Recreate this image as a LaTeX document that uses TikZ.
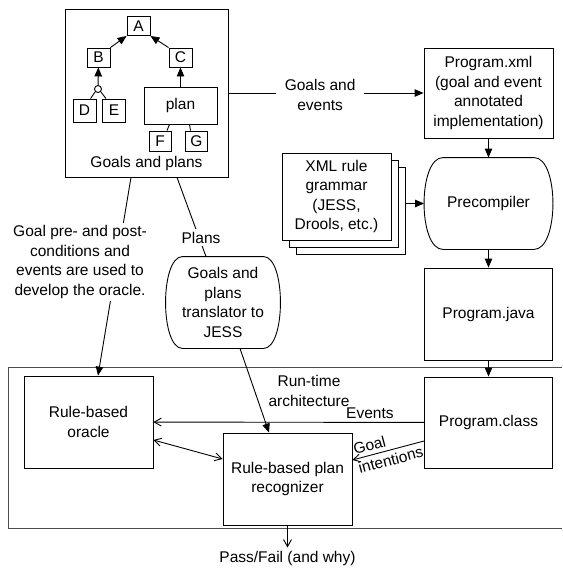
\documentclass[tikz,border=0pt]{standalone}
\usepackage{fontspec}
\setmainfont{Liberation Sans}
\usetikzlibrary{positioning,arrows.meta,shadows}
% box with bulging left and right sides
\newcommand{\sidebulge}[2]{%
  \draw ([xshift=#2]#1.north west) -- ([xshift=-#2]#1.north east)
    .. controls ([xshift=#2/3]#1.north east) and ([xshift=#2/3]#1.south east)
    .. ([xshift=-#2]#1.south east) -- ([xshift=#2]#1.south west)
    .. controls ([xshift=-#2/3]#1.south west) and ([xshift=-#2/3]#1.north west)
    .. cycle;}

\begin{document}
\begin{tikzpicture}[x=1pt, y=-1pt, line width=0.9pt,
  font=\fontsize{15.5}{19.5}\selectfont,
  box/.style={draw, fill=white, inner sep=0pt, align=center},
  goal/.style={box, minimum width=23, minimum height=19},
  plain/.style={inner sep=0pt, align=center},
  lbl/.style={fill=white, inner sep=3pt, align=center},
  arr/.style={-{Triangle[length=9pt,width=7.5pt]}},
  opn/.style={-{Straight Barb[length=7pt,width=8pt]}},
  opn2/.style={{Straight Barb[length=7pt,width=8pt]}-{Straight Barb[length=7pt,width=8pt]}}]
\useasboundingbox (0,0) rectangle (562,570);
\draw[black!70] (562,367) -- (8,367) -- (8,528) -- (562,528);
% goals and plans
\node[box, minimum width=163, minimum height=168] (goals) at (146.5,93) {};
\node (goalslbl) at (146.5,163) {Goals and plans};
\node[goal] (A) at (138.5,26) {A};
\node[goal] (B) at (98.5,57.5) {B};
\node[goal] (C) at (180.5,57.5) {C};
\node[goal, minimum height=23] (D) at (84.5,110.5) {D};
\node[goal, minimum height=23] (E) at (114,110.5) {E};
\node[box, minimum width=73, minimum height=37] (plan) at (180.5,105.5) {plan};
\node[goal, minimum width=22, minimum height=20] (F) at (160,141) {F};
\node[goal, minimum width=22, minimum height=20] (G) at (196.5,141) {G};
\node[draw, circle, inner sep=0pt, minimum size=7] (orn) at (98,89) {};
\draw[arr] (B.north east) -- (A.south west);
\draw[arr] (C.north west) -- (A.south east);
\draw[arr] (orn) -- (B);
\draw ([xshift=6]D.north) -- (orn.south west);
\draw ([xshift=-8]E.north) -- (orn.south east);
\draw[arr] (plan) -- (C);
\draw ([xshift=7]F.north) -- ([xshift=-11]plan.south);
\draw ([xshift=-6]G.north) -- ([xshift=9]plan.south);
% build chain
\node[box, minimum width=129, minimum height=90] (progxml) at (488.5,93)
  {Program.xml\\(goal and event\\annotated\\implementation)};
\node[plain, minimum width=128, minimum height=91] (precomp) at (488.5,203.5) {Precompiler};
\sidebulge{precomp}{19}
\node[box, minimum width=128, minimum height=92] (progjava) at (488.5,314) {Program.java};
\node[box, minimum width=128, minimum height=91] (progclass) at (488.5,422.5) {Program.class};
\node[box, minimum width=109, minimum height=87,
  double copy shadow={shadow xshift=7pt, shadow yshift=-7pt}] (grammar) at (336.5,196.5)
  {XML rule\\grammar\\(JESS,\\Drools, etc.)};
\draw[arr] (progxml) -- (precomp);
\draw[arr] (precomp) -- (progjava);
\draw[arr] (progjava) -- (progclass);
\draw[arr] ([xshift=14pt,yshift=-7pt]grammar.east) -- (precomp.west);
\draw[arr] (goals.east) -- (progxml.west)
  node[lbl, inner xsep=9pt, pos=0.47, yshift=-2] (gelbl) {Goals and\\events};
% translator and run-time part
\node[plain, minimum width=114, minimum height=91] (transl) at (223,302.5)
  {Goals and\\plans\\translator to\\JESS};
\sidebulge{transl}{17}
\node[box, minimum width=129, minimum height=92] (oracle) at (88.5,422) {Rule-based\\oracle};
\node[box, minimum width=129, minimum height=92] (recog) at (287.5,479) {Rule-based plan\\recognizer};
\node (rtlbl) at (309,391) [align=center] {Run-time\\architecture};
\node (verdict) [below=22pt of recog] {Pass/Fail (and why)};
\draw[arr] ([xshift=-15.5]goals.south) -- ([xshift=9.5]oracle.north);
\node[lbl] (precond) at (80,262)
  {Goal pre- and post-\\conditions and\\events are used to\\develop the oracle.};
\draw ([xshift=30.5]goals.south) -- ([xshift=-17]transl.north)
  node[lbl, pos=0.76, xshift=2] (planslbl) {Plans};
\draw[arr] ([xshift=17]transl.south) -- ([xshift=-18.5]recog.north);
\draw[opn] (progclass) -- (oracle) node[pos=0.2, above] (evlbl) {Events};
\draw[opn] ([yshift=-18.5]progclass.west) -- ([yshift=19]recog.east)
  node[midway, sloped, align=left, inner sep=0pt] (gilbl) {Goal\\intentions};
\draw[opn2] ([yshift=-18]oracle.east) -- ([yshift=20]recog.west);
\draw[opn] (recog) -- (verdict);
\end{tikzpicture}
\end{document}
